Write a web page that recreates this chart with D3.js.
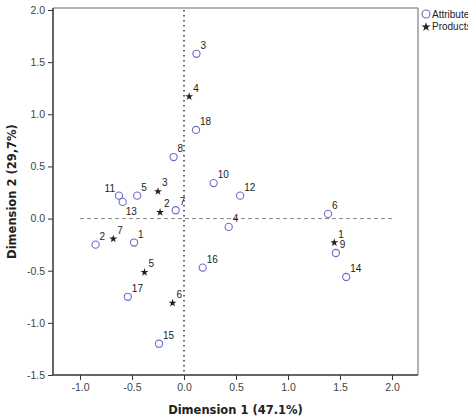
<!DOCTYPE html>
<html>
<head>
<meta charset="utf-8">
<script src="https://cdn.jsdelivr.net/npm/d3@7"></script>
<style>
  body { margin: 0; background: #fff; }
  svg { display: block; }
  .tick text { font-family: "Liberation Sans", Arial, sans-serif; font-size: 10.5px; fill: #444; }
  .tick line { stroke: #333; }
  .pt-label { font-family: "Liberation Sans", Arial, sans-serif; font-size: 10px; fill: #222; }
  .axis-title { font-family: "DejaVu Sans", sans-serif; font-size: 11.5px; font-weight: bold; fill: #222; }
  .legend text { font-family: "Liberation Sans", Arial, sans-serif; font-size: 10px; fill: #222; }
</style>
</head>
<body>
<div id="chart"></div>
<script>
// ---- data ----
const attrIds = ["1", "2", "3", "4", "5", "6", "7", "8", "9", "10", "11", "12", "13", "14", "15", "16", "17", "18"];
const attrDim1 = [-0.48, -0.85, 0.12, 0.43, -0.45, 1.385, -0.08, -0.10, 1.46, 0.285, -0.625, 0.54, -0.59, 1.56, -0.24, 0.18, -0.54, 0.115];
const attrDim2 = [-0.23, -0.25, 1.58, -0.08, 0.22, 0.045, 0.08, 0.59, -0.33, 0.34, 0.22, 0.22, 0.16, -0.56, -1.20, -0.47, -0.75, 0.85];

const prodIds = ["1", "2", "3", "4", "5", "6", "7"];
const prodDim1 = [1.445, -0.23, -0.25, 0.05, -0.38, -0.11, -0.68];
const prodDim2 = [-0.23, 0.06, 0.26, 1.17, -0.515, -0.81, -0.195];

const xTicks = [-1.0, -0.5, 0.0, 0.5, 1.0, 1.5, 2.0];
const yTicks = [-1.5, -1.0, -0.5, 0.0, 0.5, 1.0, 1.5, 2.0];

const xTitle = "Dimension 1 (47.1%)";
const yTitle = "Dimension 2 (29,7%)";
const legendLabels = ["Attributes", "Products"];

const attrColor = "#6b6bc6";

// ---- layout ----
const W = 468, H = 418;
const plotLeft = 53, plotRight = 418, plotTop = 8, plotBottom = 375;

const svg = d3.select("#chart").append("svg")
  .attr("width", W)
  .attr("height", H);

const x = d3.scaleLinear().domain([-1, 2]).range([80, 392]);
const y = d3.scaleLinear().domain([-1.5, 2]).range([375, 10]);

// frame (light top/right, dark left/bottom)
svg.append("line")
  .attr("x1", plotLeft).attr("x2", plotRight)
  .attr("y1", plotTop).attr("y2", plotTop)
  .attr("stroke", "#999").attr("stroke-width", 1.5);
svg.append("line")
  .attr("x1", plotRight).attr("x2", plotRight)
  .attr("y1", plotTop).attr("y2", plotBottom)
  .attr("stroke", "#999").attr("stroke-width", 1.5);

// axes
const fmt = d => d.toFixed(1);

const yAxisG = svg.append("g")
  .attr("transform", `translate(${plotLeft},0)`)
  .call(d3.axisLeft(y).tickValues(yTicks).tickFormat(fmt).tickSize(5).tickPadding(3));
yAxisG.select(".domain").remove();

const xAxisG = svg.append("g")
  .attr("transform", `translate(0,${plotBottom})`)
  .call(d3.axisBottom(x).tickValues(xTicks).tickFormat(fmt).tickSize(5).tickPadding(4));
xAxisG.select(".domain").remove();

svg.append("line")
  .attr("x1", plotLeft).attr("x2", plotLeft)
  .attr("y1", plotTop).attr("y2", plotBottom)
  .attr("stroke", "#333").attr("stroke-width", 1.5);
svg.append("line")
  .attr("x1", plotLeft).attr("x2", plotRight)
  .attr("y1", plotBottom).attr("y2", plotBottom)
  .attr("stroke", "#333").attr("stroke-width", 1.5);

// reference lines through the origin
svg.append("line")
  .attr("x1", x(0)).attr("x2", x(0))
  .attr("y1", y(2)).attr("y2", y(-1.5))
  .attr("stroke", "#333")
  .attr("stroke-width", 1.5)
  .attr("stroke-dasharray", "1.5,3.5");
svg.append("line")
  .attr("x1", x(-1)).attr("x2", x(2))
  .attr("y1", y(0)).attr("y2", y(0))
  .attr("stroke", "#888")
  .attr("stroke-width", 1)
  .attr("stroke-dasharray", "4,3");

// points
const attributes = attrIds.map((id, i) => ({ id, d1: attrDim1[i], d2: attrDim2[i] }));
const products = prodIds.map((id, i) => ({ id, d1: prodDim1[i], d2: prodDim2[i] }));

const star = d3.symbol().type(d3.symbolStar).size(20);

svg.append("g").selectAll("circle")
  .data(attributes)
  .join("circle")
  .attr("cx", d => x(d.d1))
  .attr("cy", d => y(d.d2))
  .attr("r", 3.6)
  .attr("fill", "none")
  .attr("stroke", attrColor)
  .attr("stroke-width", 1.1);

svg.append("g").selectAll("path")
  .data(products)
  .join("path")
  .attr("transform", d => `translate(${x(d.d1)},${y(d.d2)})`)
  .attr("d", star)
  .attr("fill", "#222");

// labels: upper right by default, a couple moved to avoid overlap
function labelPos(kind, d) {
  if (kind === "a" && d.id === "11") return { dx: -4, dy: -4, anchor: "end" };
  if (kind === "a" && d.id === "13") return { dx: 3, dy: 13, anchor: "start" };
  return { dx: 4, dy: -5, anchor: "start" };
}

const labelG = svg.append("g");
attributes.forEach(d => {
  const p = labelPos("a", d);
  labelG.append("text").attr("class", "pt-label")
    .attr("x", x(d.d1) + p.dx).attr("y", y(d.d2) + p.dy)
    .attr("text-anchor", p.anchor)
    .text(d.id);
});
products.forEach(d => {
  const p = labelPos("p", d);
  labelG.append("text").attr("class", "pt-label")
    .attr("x", x(d.d1) + p.dx).attr("y", y(d.d2) + p.dy)
    .attr("text-anchor", p.anchor)
    .text(d.id);
});

// axis titles
svg.append("text").attr("class", "axis-title")
  .attr("x", (plotLeft + plotRight) / 2)
  .attr("y", 414)
  .attr("text-anchor", "middle")
  .text(xTitle);

svg.append("text").attr("class", "axis-title")
  .attr("transform", `translate(16,${(plotTop + plotBottom) / 2}) rotate(-90)`)
  .attr("text-anchor", "middle")
  .text(yTitle);

// legend (runs off the right edge like the original)
const legend = svg.append("g").attr("class", "legend");
legend.append("circle")
  .attr("cx", 426).attr("cy", 14).attr("r", 4)
  .attr("fill", "none").attr("stroke", attrColor).attr("stroke-width", 1.1);
legend.append("text").attr("x", 432).attr("y", 18).text(legendLabels[0]);
legend.append("path")
  .attr("transform", "translate(426,27)")
  .attr("d", d3.symbol().type(d3.symbolStar).size(26))
  .attr("fill", "#222");
legend.append("text").attr("x", 432).attr("y", 30).text(legendLabels[1]);
</script>
</body>
</html>
